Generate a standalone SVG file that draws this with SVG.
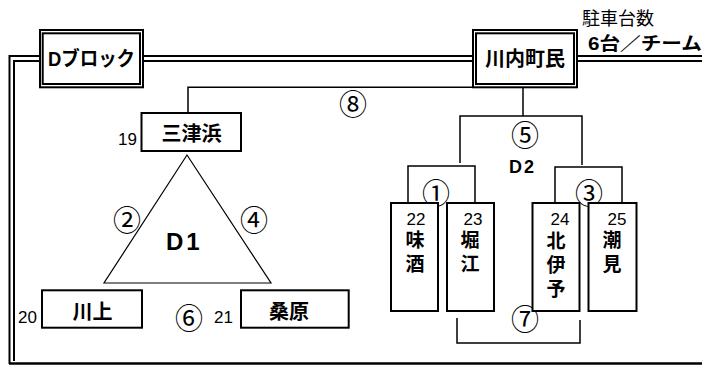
<svg xmlns="http://www.w3.org/2000/svg" width="702" height="365" viewBox="0 0 702 365">
<style>
text{font-family:"Liberation Sans","Noto Sans CJK JP",sans-serif;fill:#000}
.b{font-weight:bold}
.box{fill:#fff;stroke:#000;stroke-width:2}
.ln{fill:none;stroke:#000;stroke-width:1.5}
.fr{fill:none;stroke:#000;stroke-width:2}
.t20{font-size:20px;font-weight:bold;text-anchor:middle}
.t19{font-size:19px;font-weight:bold;text-anchor:middle}
.num{font-size:17px}
.c{font-size:28px;text-anchor:middle;font-family:"Noto Sans CJK JP",sans-serif}
</style>
<rect width="702" height="365" fill="#fff"/>
<g id="connectors">
<path class="fr" d="M702,56 H9.5 V364"/>
<path class="fr" d="M702,61 H14 V361"/>
<path d="M9,363.5 H702" stroke="#000" stroke-width="2.5"/>
<path class="ln" d="M188,113 V87.3 H474"/>
<path class="ln" d="M523,88 V116"/>
<path class="ln" d="M460,163 V116 H582 V165"/>
<path class="ln" d="M408,203 V166 H475 V203"/>
<path class="ln" d="M555,203 V167 H622 V203"/>
<path class="ln" d="M457,318 V343 H580 V320"/>
<path d="M187,155 L104,283 H271 Z" fill="none" stroke="#000" stroke-width="1.2"/>
</g>
<g id="labels">
<text x="582" y="25" font-size="18">駐車台数</text>
<text x="588" y="50" font-size="18" class="b" textLength="114" lengthAdjust="spacingAndGlyphs">6台／チーム</text>
<text class="c" x="353" y="114.5">⑧</text>
<text class="c" x="525" y="145.5">⑤</text>
<text class="c" x="127" y="230.5">②</text>
<text class="c" x="254" y="230.5">④</text>
<text class="c" x="189" y="328.5">⑥</text>
<text class="c" x="436" y="203.5">①</text>
<text class="c" x="589" y="203.5">③</text>
<text class="c" x="525" y="329.5">⑦</text>
<text x="166" y="250" font-size="24" class="b" letter-spacing="3">D1</text>
<text x="509" y="173" font-size="18" class="b" letter-spacing="2">D2</text>
</g>
<g id="dblock">
<rect class="box" x="40" y="30" width="103" height="57.3"/>
<rect class="box" x="42.7" y="33.3" width="97.3" height="50.7" stroke-width="1.8"/>
<text x="48" y="66" font-size="20" class="b" textLength="87" lengthAdjust="spacingAndGlyphs">Dブロック</text>
</g>
<g id="kawauchi">
<rect class="box" x="473" y="30" width="104" height="57.3"/>
<rect class="box" x="476" y="33.3" width="98" height="50.7" stroke-width="1.8"/>
<text class="t20" x="525" y="66">川内町民</text>
</g>
<g id="mitsuhama">
<rect class="box" x="141.5" y="113" width="99.5" height="38"/>
<text class="t20" x="191.5" y="141">三津浜</text>
<text class="num" x="137" y="145" text-anchor="end">19</text>
</g>
<g id="kawakami">
<rect class="box" x="42" y="290.3" width="100" height="37.4"/>
<text class="t20" x="92.5" y="319">川上</text>
<text class="num" x="37" y="323" text-anchor="end">20</text>
</g>
<g id="kuwabara">
<rect class="box" x="241" y="290.3" width="107.7" height="37.4"/>
<text class="t20" x="289" y="319">桑原</text>
<text class="num" x="233" y="323" text-anchor="end">21</text>
</g>
<g id="miake">
<rect class="box" x="391" y="203" width="47" height="108"/>
<text class="num" x="416" y="225" text-anchor="middle">22</text>
<text class="t19" x="415" y="247">味<tspan x="415" dy="24">酒</tspan></text>
</g>
<g id="horie">
<rect class="box" x="447" y="203" width="47" height="108"/>
<text class="num" x="473" y="225" text-anchor="middle">23</text>
<text class="t19" x="470" y="247">堀<tspan x="470" dy="24">江</tspan></text>
</g>
<g id="kitaiyo">
<rect class="box" x="532.5" y="203" width="47" height="108"/>
<text class="num" x="560" y="225" text-anchor="middle">24</text>
<text class="t19" x="556" y="248">北<tspan x="556" dy="24">伊</tspan><tspan x="556" dy="24">予</tspan></text>
</g>
<g id="shiomi">
<rect class="box" x="588.5" y="203" width="48" height="108"/>
<text class="num" x="617" y="225" text-anchor="middle">25</text>
<text class="t19" x="612" y="247">潮<tspan x="612" dy="24">見</tspan></text>
</g>
</svg>
